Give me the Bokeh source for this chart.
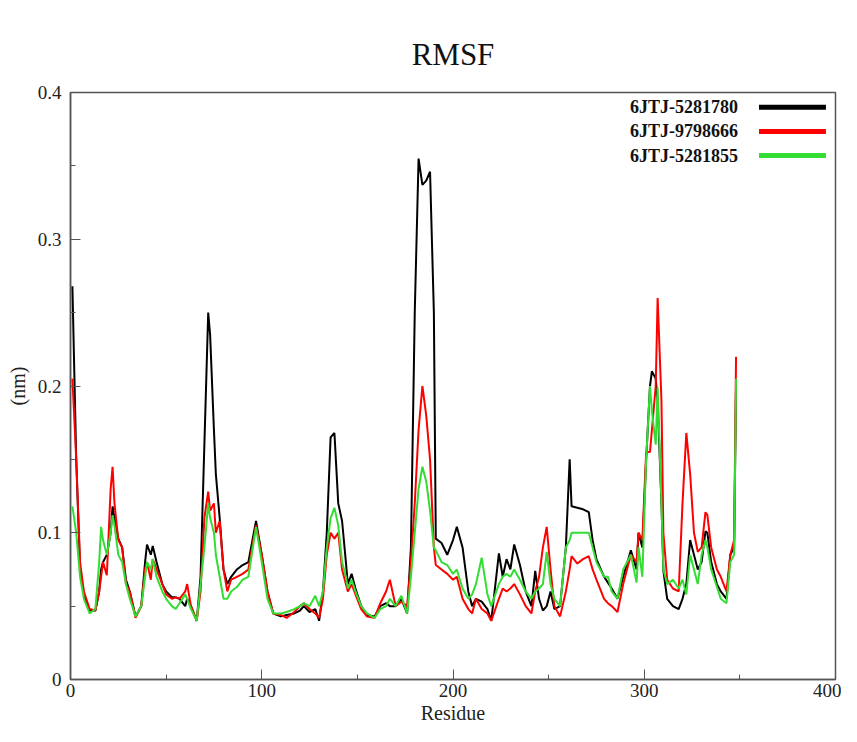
from bokeh.plotting import figure
from bokeh.models import FixedTicker, Label, Title, ColumnDataSource, Range1d
from bokeh.embed import file_html
from bokeh.resources import INLINE

# ---------------- data ----------------
residue = [1, 3, 5, 7, 10, 13, 15, 16, 17, 19, 21, 22, 23, 25, 27, 29, 31, 34, 37, 39,
           40, 42, 43, 45, 48, 50, 53, 55, 57, 60, 61, 63, 66, 68, 70, 72, 73, 75, 76, 78,
           80, 82, 84, 87, 90, 93, 97, 100, 103, 106, 110, 113, 117, 120, 122, 125, 128, 130, 132, 134,
           136, 138, 140, 142, 144, 145, 147, 149, 152, 155, 159, 162, 165, 167, 170, 173, 176, 178, 180, 182,
           184, 186, 188, 190, 191, 194, 197, 200, 202, 205, 208, 210, 212, 215, 218, 220, 224, 226, 228, 230,
           232, 235, 238, 241, 243, 245, 247, 249, 251, 253, 256, 259, 261, 262, 265, 268, 271, 273, 275, 279,
           281, 283, 286, 289, 293, 296, 297, 299, 301, 303, 304, 306, 307, 309, 310, 312, 315, 318, 320, 322,
           324, 326, 328, 330, 332, 333, 335, 338, 340, 343, 345, 347, 348]

rmsf_5281780 = [0.268, 0.150, 0.075, 0.058, 0.047, 0.047, 0.060, 0.075, 0.080, 0.085, 0.100, 0.118, 0.110, 0.096, 0.090, 0.068, 0.060, 0.043, 0.050, 0.080,
                0.092, 0.085, 0.091, 0.080, 0.065, 0.060, 0.056, 0.056, 0.055, 0.050, 0.055, 0.050, 0.040, 0.070, 0.160, 0.250, 0.235, 0.170, 0.140, 0.110,
                0.075, 0.065, 0.070, 0.075, 0.078, 0.080, 0.108, 0.085, 0.060, 0.045, 0.043, 0.044, 0.045, 0.047, 0.050, 0.046, 0.048, 0.040, 0.060, 0.100,
                0.165, 0.168, 0.120, 0.108, 0.080, 0.065, 0.072, 0.062, 0.050, 0.044, 0.043, 0.050, 0.052, 0.050, 0.050, 0.055, 0.045, 0.090, 0.250, 0.355,
                0.337, 0.340, 0.346, 0.250, 0.096, 0.093, 0.085, 0.095, 0.104, 0.090, 0.060, 0.050, 0.055, 0.053, 0.048, 0.040, 0.086, 0.070, 0.082, 0.075,
                0.092, 0.078, 0.060, 0.050, 0.074, 0.055, 0.047, 0.050, 0.060, 0.048, 0.050, 0.090, 0.150, 0.118, 0.117, 0.116, 0.114, 0.095, 0.082, 0.070,
                0.066, 0.062, 0.055, 0.070, 0.088, 0.075, 0.100, 0.090, 0.150, 0.200, 0.210, 0.205, 0.190, 0.120, 0.074, 0.055, 0.050, 0.048, 0.055, 0.065,
                0.095, 0.085, 0.075, 0.080, 0.101, 0.100, 0.080, 0.065, 0.060, 0.055, 0.085, 0.090, 0.200]

rmsf_9798666 = [0.205, 0.150, 0.080, 0.060, 0.048, 0.047, 0.060, 0.070, 0.080, 0.071, 0.130, 0.145, 0.120, 0.095, 0.090, 0.065, 0.060, 0.042, 0.050, 0.075,
                0.080, 0.068, 0.082, 0.075, 0.065, 0.058, 0.055, 0.056, 0.055, 0.060, 0.065, 0.050, 0.040, 0.060, 0.110, 0.128, 0.115, 0.120, 0.100, 0.108,
                0.075, 0.060, 0.068, 0.070, 0.072, 0.075, 0.105, 0.085, 0.060, 0.045, 0.044, 0.042, 0.046, 0.050, 0.052, 0.048, 0.045, 0.042, 0.055, 0.085,
                0.100, 0.096, 0.100, 0.075, 0.065, 0.060, 0.065, 0.058, 0.048, 0.043, 0.042, 0.052, 0.060, 0.068, 0.050, 0.053, 0.050, 0.080, 0.120, 0.170,
                0.200, 0.180, 0.150, 0.090, 0.078, 0.075, 0.072, 0.068, 0.070, 0.055, 0.048, 0.045, 0.055, 0.048, 0.045, 0.040, 0.055, 0.062, 0.060, 0.062,
                0.065, 0.058, 0.050, 0.045, 0.060, 0.070, 0.090, 0.104, 0.075, 0.050, 0.043, 0.060, 0.075, 0.084, 0.079, 0.082, 0.084, 0.075, 0.068, 0.055,
                0.052, 0.050, 0.046, 0.065, 0.085, 0.080, 0.100, 0.095, 0.155, 0.155, 0.170, 0.200, 0.260, 0.190, 0.100, 0.068, 0.062, 0.060, 0.120, 0.168,
                0.140, 0.100, 0.087, 0.090, 0.114, 0.112, 0.090, 0.075, 0.070, 0.060, 0.085, 0.095, 0.220]

rmsf_5281855 = [0.118, 0.100, 0.070, 0.055, 0.045, 0.048, 0.080, 0.104, 0.095, 0.085, 0.100, 0.112, 0.105, 0.085, 0.080, 0.065, 0.055, 0.043, 0.050, 0.070,
                0.080, 0.075, 0.082, 0.070, 0.060, 0.055, 0.050, 0.048, 0.052, 0.058, 0.055, 0.048, 0.040, 0.065, 0.090, 0.120, 0.110, 0.100, 0.085, 0.070,
                0.055, 0.055, 0.060, 0.063, 0.068, 0.070, 0.104, 0.080, 0.055, 0.045, 0.045, 0.046, 0.048, 0.050, 0.052, 0.050, 0.057, 0.050, 0.060, 0.090,
                0.110, 0.117, 0.105, 0.080, 0.070, 0.062, 0.068, 0.060, 0.050, 0.045, 0.042, 0.048, 0.050, 0.055, 0.050, 0.057, 0.045, 0.070, 0.100, 0.130,
                0.145, 0.135, 0.115, 0.090, 0.088, 0.080, 0.078, 0.072, 0.075, 0.062, 0.055, 0.058, 0.065, 0.083, 0.058, 0.050, 0.065, 0.070, 0.072, 0.070,
                0.075, 0.068, 0.060, 0.055, 0.060, 0.062, 0.065, 0.087, 0.065, 0.055, 0.050, 0.090, 0.095, 0.100, 0.100, 0.100, 0.100, 0.090, 0.080, 0.070,
                0.070, 0.060, 0.055, 0.075, 0.085, 0.066, 0.090, 0.070, 0.150, 0.200, 0.183, 0.160, 0.199, 0.120, 0.075, 0.065, 0.068, 0.062, 0.068, 0.058,
                0.085, 0.075, 0.065, 0.085, 0.095, 0.090, 0.075, 0.063, 0.055, 0.052, 0.080, 0.085, 0.205]

series_names = ["6JTJ-5281780", "6JTJ-9798666", "6JTJ-5281855"]
series_colors = ["#000000", "#ff0000", "#33dd33"]

chart_title = "RMSF"
x_label = "Residue"
y_label = "(nm)"
x_ticks = [0, 100, 200, 300, 400]
x_minor = [50, 150, 250, 350]
y_ticks = [0, 0.1, 0.2, 0.3, 0.4]
y_tick_labels = ["0", "0.1", "0.2", "0.3", "0.4"]
y_minor = [0.05, 0.15, 0.25, 0.35]

# ---------------- figure ----------------
SERIF = "Liberation Serif"

p = figure(width=841, height=726, output_backend="svg", toolbar_location=None,
           x_range=Range1d(0, 400), y_range=Range1d(0, 0.4),
           min_border_left=70, min_border_right=6, min_border_top=92, min_border_bottom=30)
p.background_fill_color = "white"
p.border_fill_color = "white"
p.outline_line_color = "#555555"
p.outline_line_width = 1.5
p.grid.visible = False

# blank spacer title (nearest the frame) pushes the real title upward
p.add_layout(Title(text=" ", text_font=SERIF, text_font_size="17px", standoff=0), "above")
p.add_layout(Title(text=chart_title, align="center", text_font=SERIF,
                   text_font_size="31px", text_font_style="normal", text_color="#111111",
                   standoff=0), "above")

for ax in (p.xaxis[0], p.yaxis[0]):
    ax.axis_line_color = "#555555"
    ax.axis_line_width = 1.5
    ax.major_tick_in = 10
    ax.major_tick_out = 0
    ax.minor_tick_in = 5
    ax.minor_tick_out = 0
    ax.major_tick_line_color = "#555555"
    ax.minor_tick_line_color = "#555555"
    ax.major_label_text_font = SERIF
    ax.major_label_text_font_size = "19px"
    ax.major_label_text_color = "#222222"
    ax.axis_label_text_font = SERIF
    ax.axis_label_text_font_size = "20px"
    ax.axis_label_text_font_style = "normal"
    ax.axis_label_text_color = "#222222"

p.xaxis[0].ticker = FixedTicker(ticks=x_ticks, minor_ticks=x_minor)
p.yaxis[0].ticker = FixedTicker(ticks=y_ticks, minor_ticks=y_minor)
p.yaxis[0].major_label_overrides = {tk: lb for tk, lb in zip(y_ticks, y_tick_labels)}
p.xaxis[0].axis_label = x_label
p.yaxis[0].axis_label = y_label
p.xaxis[0].major_label_standoff = 4
p.xaxis[0].axis_label_standoff = 2
p.yaxis[0].major_label_standoff = 9
p.yaxis[0].axis_label_standoff = 6

for vals, col in zip([rmsf_5281780, rmsf_9798666, rmsf_5281855], series_colors):
    p.line(residue, vals, line_color=col, line_width=2)

# ---------------- legend (text left, line right) ----------------
leg_text_x = 349
leg_line_x0, leg_line_x1 = 360, 395
leg_rows_y = [0.390, 0.3735, 0.357]
leg_src = ColumnDataSource(dict(x0=[leg_line_x0] * 3, x1=[leg_line_x1] * 3,
                                y=leg_rows_y, c=series_colors))
p.segment(x0="x0", y0="y", x1="x1", y1="y", line_color="c", line_width=5, source=leg_src)
for name, yy in zip(series_names, leg_rows_y):
    p.add_layout(Label(x=leg_text_x, y=yy, text=name, text_font=SERIF, text_font_size="18px",
                       text_font_style="bold", text_align="right", text_baseline="middle",
                       text_color="#111111"))

open("out.html", "w").write(file_html(p, INLINE))
